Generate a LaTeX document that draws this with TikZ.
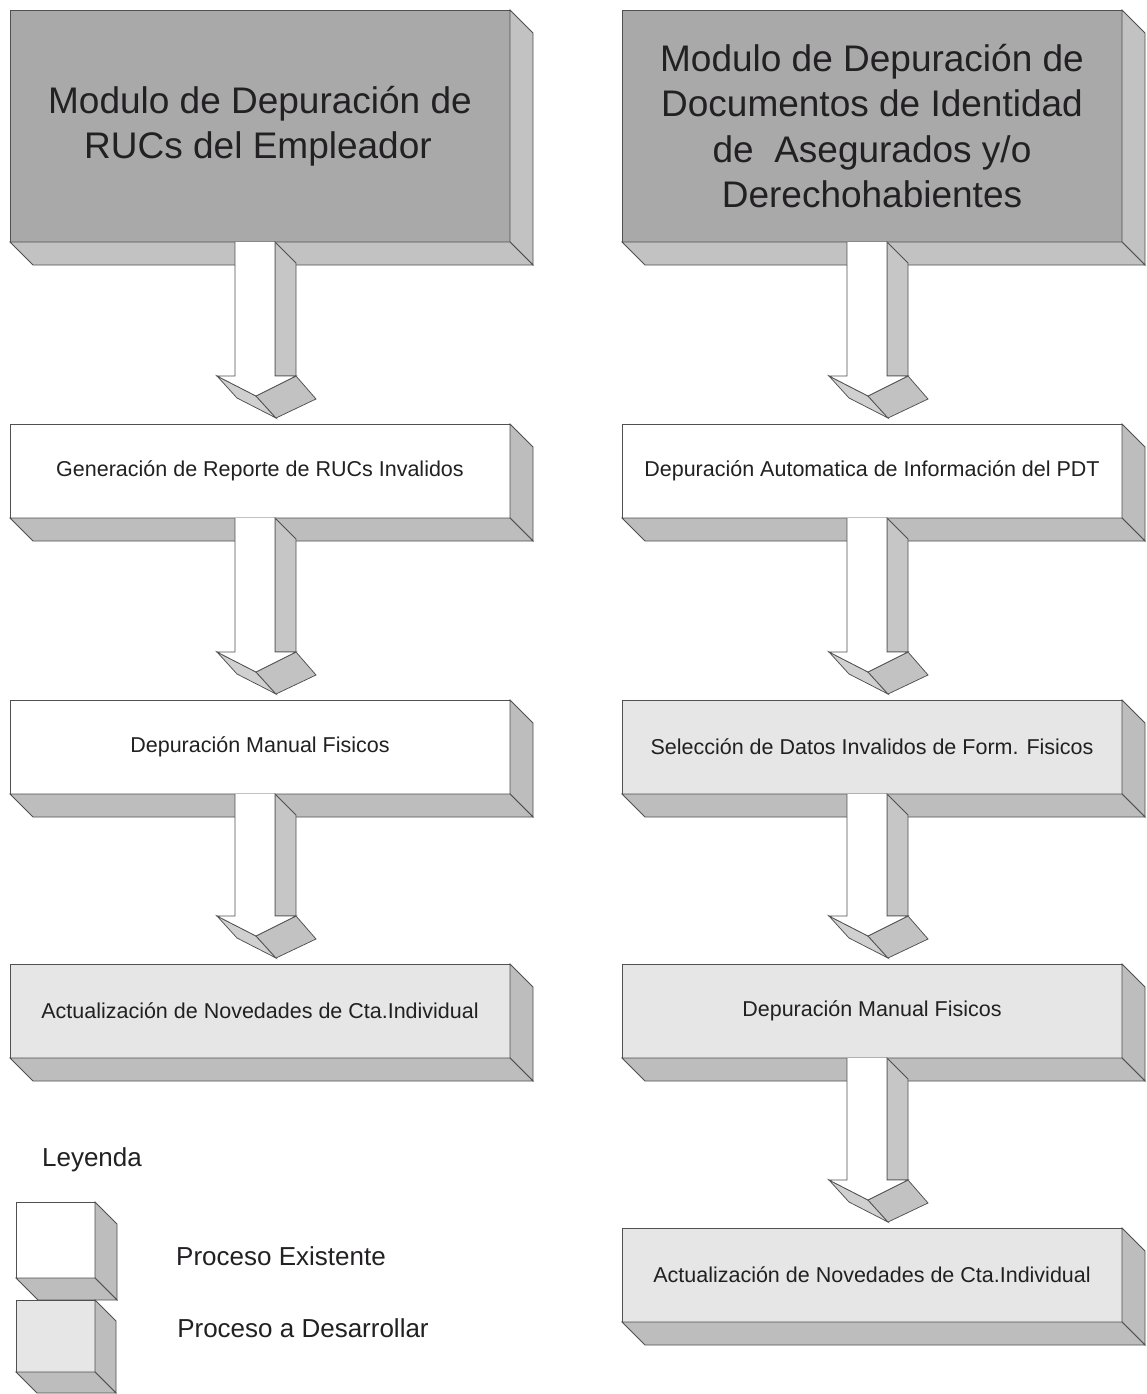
\documentclass[tikz,border=0pt]{standalone}
\usepackage{fontspec}
\setmainfont{Liberation Sans}
\usetikzlibrary{calc}

\definecolor{edgegray}{HTML}{505050}
\definecolor{titlefill}{HTML}{A9A9A9}
\definecolor{titleside}{HTML}{C2C2C2}
\definecolor{todofill}{HTML}{E6E6E6}
\definecolor{sidefill}{HTML}{BDBDBD}
\definecolor{headfill}{HTML}{C2C2C2}
\definecolor{wingfill}{HTML}{D0D0D0}
\definecolor{stripfill}{HTML}{C6C6C6}
\definecolor{inkgray}{HTML}{222022}

% right and bottom faces of a slab, extruded down-right by #3
\newcommand\slabsides[3]{%
  \draw[edge,fill=#2] (#1.north east) -- ++(#3,#3) -- ($(#1.south east)+(#3,#3)$) -- (#1.south east) -- cycle;
  \draw[edge,fill=#2] (#1.south west) -- ++(#3,#3) -- ($(#1.south east)+(#3,#3)$) -- (#1.south east) -- cycle;}

% extruded block arrow from the bottom of one slab to the top of the next
\newcommand\flowarrow[2]{%
  \coordinate (ta)  at ($(#1.south west)+(225,0)$);
  \coordinate (tr)  at ($(ta)+(40,0)$);
  \coordinate (bw)  at (ta |- #2.north);
  \coordinate (sl)  at ($(bw)+(0,-48)$);
  \coordinate (sr)  at ($(bw)+(40,-48)$);
  \coordinate (wa)  at ($(bw)+(-18,-48)$);
  \coordinate (wd)  at ($(bw)+(61,-48)$);
  \coordinate (tip) at ($(bw)+(21,-28)$);
  \draw[edge,fill=stripfill] (tr) -- ++(21,21) -- (wd) -- (sr) -- cycle;
  \draw[edge,fill=wingfill] (wa) -- (tip) -- ($(tip)+(20,22)$) -- ($(wa)+(20,22)$) -- cycle;
  \draw[edge,fill=headfill] (tip) -- (wd) -- ++(20,23) -- ($(tip)+(20,22)$) -- cycle;
  \fill[white] (ta) -- (sl) -- (wa) -- (tip) -- (wd) -- (sr) -- (tr) -- cycle;
  \draw[edge] (ta) -- (sl) -- (wa) -- (tip) -- (wd) -- (sr) -- (tr);}

\begin{document}
\begin{tikzpicture}[x=1pt,y=-1pt,
  edge/.style={draw=edgegray,line width=0.75pt,line join=miter},
  slab/.style={edge,rectangle,inner sep=0pt,outer sep=0pt,minimum width=500pt,
    text=inkgray,align=center},
  titlebox/.style={slab,fill=titlefill,minimum height=232pt,
    font=\fontsize{37}{45.5}\selectfont},
  stepbox/.style={slab,minimum height=94pt,font=\fontsize{21.5}{26}\selectfont},
  existing/.style={stepbox,fill=white},
  planned/.style={stepbox,fill=todofill},
  cube/.style={edge,rectangle,inner sep=0pt,outer sep=0pt,minimum width=79pt},
  legendtext/.style={text=inkgray,inner sep=0pt,font=\fontsize{26}{30}\selectfont}]

\useasboundingbox[fill=white] (0,0) rectangle (1147,1394);

% left column
\node[titlebox] (L1) at (260,126) {Modulo de Depuración de\\RUCs del Empleador\hspace*{4pt}};
\slabsides{L1}{titleside}{23}
\node[existing] (L2) at (260,471) {Generación de Reporte de RUCs Invalidos};
\slabsides{L2}{sidefill}{23}
\node[existing] (L3) at (260,747) {Depuración Manual Fisicos};
\slabsides{L3}{sidefill}{23}
\node[planned] (L4) at (260,1011) {Actualización de Novedades de Cta.Individual};
\slabsides{L4}{sidefill}{23}

% right column
\node[titlebox] (R1) at (872,126) {Modulo de Depuración de\\Documentos de Identidad\\de~~Asegurados y/o\\Derechohabientes};
\slabsides{R1}{titleside}{23}
\node[existing] (R2) at (872,471) {Depuración Automatica de Información del PDT};
\slabsides{R2}{sidefill}{23}
\node[planned] (R3) at (872,747) {Selección de Datos Invalidos de Form. Fisicos};
\slabsides{R3}{sidefill}{23}
\node[planned] (R4) at (872,1011) {Depuración Manual Fisicos};
\slabsides{R4}{sidefill}{23}
\node[planned] (R5) at (872,1275) {Actualización de Novedades de Cta.Individual};
\slabsides{R5}{sidefill}{23}

% connectors
\flowarrow{L1}{L2}
\flowarrow{L2}{L3}
\flowarrow{L3}{L4}
\flowarrow{R1}{R2}
\flowarrow{R2}{R3}
\flowarrow{R3}{R4}
\flowarrow{R4}{R5}

% legend
\node[legendtext] (leg) at (92,1160) {Leyenda};
\node[cube,fill=white,minimum height=76pt] (cubeA) at (55.5,1240) {};
\slabsides{cubeA}{sidefill}{22}
\node[cube,fill=todofill,minimum height=72pt] (cubeB) at (55.5,1336) {};
\slabsides{cubeB}{sidefill}{21}
\node[legendtext] (legA) at (281,1256) {Proceso Existente};
\node[legendtext] (legB) at (303,1328) {Proceso a Desarrollar};
\end{tikzpicture}
\end{document}
